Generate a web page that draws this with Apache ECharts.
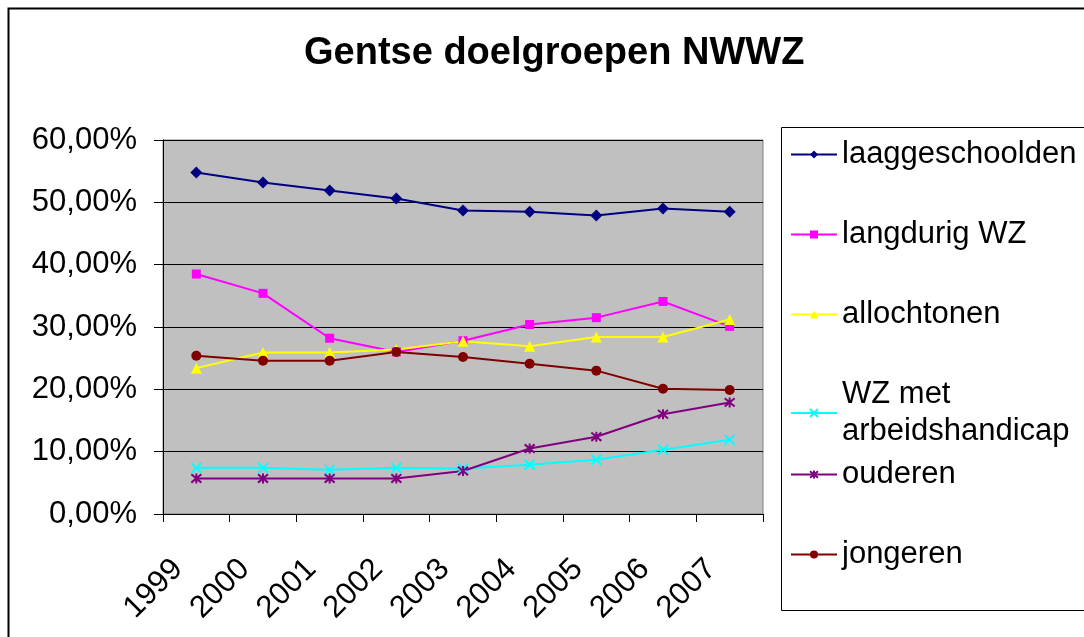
<!DOCTYPE html>
<html>
<head>
<meta charset="utf-8">
<script src="https://cdn.jsdelivr.net/npm/echarts@6/dist/echarts.min.js"></script>
<style>html,body{margin:0;padding:0;background:#fff}#c{width:1084px;height:637px}</style>
</head>
<body>
<div id="c"></div>
<script>
const years = ['1999','2000','2001','2002','2003','2004','2005','2006','2007'];
const laaggeschoolden = [54.8, 53.2, 51.9, 50.6, 48.7, 48.5, 47.9, 49.0, 48.5];
const langdurigWZ = [38.5, 35.4, 28.2, 26.0, 27.8, 30.4, 31.5, 34.1, 30.1];
const allochtonen = [23.4, 25.9, 25.9, 26.4, 27.7, 26.9, 28.4, 28.4, 31.2];
const wzArbeidshandicap = [7.4, 7.4, 7.1, 7.4, 7.3, 7.9, 8.7, 10.3, 11.9];
const ouderen = [5.7, 5.7, 5.7, 5.7, 6.9, 10.5, 12.4, 16.0, 17.9];
const jongeren = [25.4, 24.6, 24.6, 26.0, 25.2, 24.1, 23.0, 20.1, 19.9];
const yTicks = [0, 10, 20, 30, 40, 50, 60];

const FONT = 'Liberation Sans, Arial, sans-serif';
const xPath = 'path://M0,0L10,10M10,0L0,10';
const starPath = 'path://M0,0L10,10M10,0L0,10M5,-1L5,11';

function mk(name, data, color, symbol, size, extra) {
  return Object.assign({
    name, type: 'line', data, symbol, symbolSize: size,
    lineStyle: { color, width: 2 },
    itemStyle: { color },
    emphasis: { disabled: true }
  }, extra || {});
}

const series = [
  mk('laaggeschoolden', laaggeschoolden, '#000080', 'diamond', 12),
  mk('langdurig WZ', langdurigWZ, '#FF00FF', 'rect', 9),
  mk('allochtonen', allochtonen, '#FFFF00', 'triangle', 11),
  mk('WZ met arbeidshandicap', wzArbeidshandicap, '#00FFFF', xPath, 10,
     { itemStyle: { color: 'rgba(0,0,0,0)', borderColor: '#00FFFF', borderWidth: 2 } }),
  mk('ouderen', ouderen, '#800080', starPath, 10,
     { itemStyle: { color: 'rgba(0,0,0,0)', borderColor: '#800080', borderWidth: 2 } }),
  mk('jongeren', jongeren, '#800000', 'circle', 10)
];

const legendTops = [153, 233, 313, 393, 473, 553];
const legends = series.map((s, i) => ({
  data: [s.name],
  orient: 'vertical',
  left: 790,
  top: legendTops[i] - 17,
  itemWidth: 46,
  itemHeight: 10,
  itemGap: 0,
  padding: 0,
  selectedMode: false,
  formatter: n => n === 'WZ met arbeidshandicap' ? 'WZ met\narbeidshandicap' : n,
  textStyle: { fontFamily: FONT, fontSize: 31, color: '#000', lineHeight: 37, padding: [0,0,0,0] }
}));

const chart = echarts.init(document.getElementById('c'), null, { renderer: 'canvas' });
chart.setOption({
  animation: false,
  backgroundColor: '#fff',
  title: {
    text: 'Gentse doelgroepen NWWZ',
    left: 304, top: 35, padding: 0,
    textStyle: { fontFamily: FONT, fontWeight: 'bold', fontSize: 38, color: '#000' }
  },
  graphic: [
    { type: 'rect', shape: { x: 8.5, y: 8.5, width: 1200, height: 1200 }, style: { fill: 'none', stroke: '#000', lineWidth: 2 }, z: -10 },
    { type: 'rect', shape: { x: 781.5, y: 127.5, width: 400, height: 483 }, style: { fill: '#fff', stroke: '#000', lineWidth: 1 }, z: -5 }
  ],
  legend: legends,
  grid: { left: 163, top: 140, right: 321, bottom: 123, show: true, backgroundColor: '#C0C0C0', borderColor: '#808080', borderWidth: 1 },
  xAxis: {
    type: 'category', data: years, boundaryGap: true,
    axisLine: { lineStyle: { color: '#000', width: 1 } },
    axisTick: { show: true, length: 8, inside: false, lineStyle: { color: '#000' } },
    axisLabel: { rotate: 45, fontFamily: FONT, fontSize: 31, color: '#000', margin: 32, padding: [0, 26, 0, 0], interval: 0 },
    splitLine: { show: false }
  },
  yAxis: {
    type: 'value', min: 0, max: 60, interval: 10,
    axisLine: { show: true, lineStyle: { color: '#000', width: 1 } },
    axisTick: { show: true, length: 9, lineStyle: { color: '#000' } },
    axisLabel: { fontFamily: FONT, fontSize: 31, color: '#000', margin: 26,
      formatter: v => yTicks.indexOf(v) >= 0 ? v.toFixed(2).replace('.', ',') + '%' : '' },
    splitLine: { show: true, lineStyle: { color: '#000', width: 1 } }
  },
  series
});
</script>
</body>
</html>
